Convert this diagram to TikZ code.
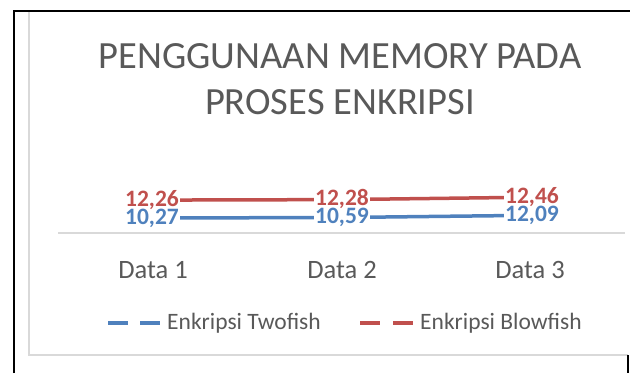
\documentclass[tikz,border=0pt]{standalone}
\usepackage{fontspec}
\setmainfont{Carlito}
\definecolor{twofish}{HTML}{4F81BD}
\definecolor{blowfish}{HTML}{C0504D}
\definecolor{chartgrey}{HTML}{D9D9D9}
\definecolor{textgrey}{HTML}{595959}
\tikzset{
  series/.style={line width=3.5pt, line cap=round},
  vallabel/.style={font=\bfseries\fontsize{23.5}{25}\selectfont, fill=white, inner xsep=1pt, inner ysep=0pt, text height=14pt, text depth=1.5pt},
  catlabel/.style={font=\fontsize{26.5}{28}\selectfont, text=textgrey},
  legtext/.style={font=\fontsize{23.5}{26}\selectfont, text=textgrey, anchor=west, inner sep=0pt},
}
\begin{document}
\begin{tikzpicture}[x=1pt,y=-1pt]
\useasboundingbox (0,0) rectangle (630,373);

% frame
\draw[chartgrey, line width=1.5pt] (29,11) -- (29,355) -- (628,355);
\draw[black, line width=1.6pt] (14,373) -- (14,11) -- (630,11);
\draw[black, line width=1.2pt] (628,355) -- (628,373);

% title
\node[font=\fontsize{38.5}{46}\selectfont, text=textgrey, align=center] (title) at (340,79)
  {PENGGUNAAN MEMORY PADA\\PROSES ENKRIPSI};

% axis
\coordinate (a0) at (58,233);
\coordinate (a1) at (625,233);
\draw[chartgrey, line width=1.5pt] (a0) -- (a1);

\node[catlabel] (c1) at (153,270) {Data 1};
\node[catlabel] (c2) at (342,270) {Data 2};
\node[catlabel] (c3) at (530,270) {Data 3};

% points
\coordinate (t1) at (152,218.0);
\coordinate (t2) at (342,217.5);
\coordinate (t3) at (532,215.3);
\coordinate (b1) at (152,200.1);
\coordinate (b2) at (342,199.6);
\coordinate (b3) at (532,197.2);

\draw[series, blowfish] (b1) -- (b2) -- (b3);
\draw[series, twofish] (t1) -- (t2) -- (t3);

\node[vallabel, text=blowfish] (vb1) at (b1) {12,26};
\node[vallabel, text=blowfish] (vb2) at (b2) {12,28};
\node[vallabel, text=blowfish] (vb3) at (b3) {12,46};
\node[vallabel, text=twofish] (vt1) at (t1) {10,27};
\node[vallabel, text=twofish] (vt2) at (t2) {10,59};
\node[vallabel, text=twofish] (vt3) at (t3) {12,09};

% legend
\coordinate (l1a) at (108,323);
\coordinate (l1b) at (162,323);
\coordinate (l2a) at (360,323);
\coordinate (l2b) at (415,323);
\draw[series, twofish, line cap=butt, dash pattern=on 20pt off 12pt] (l1a) -- (l1b);
\draw[series, blowfish, line cap=butt, dash pattern=on 20pt off 13pt] (l2a) -- (l2b);
\node[legtext] (lt1) at (167,323) {Enkripsi Twofish};
\node[legtext] (lt2) at (420,323) {Enkripsi Blowfish};
\end{tikzpicture}
\end{document}
